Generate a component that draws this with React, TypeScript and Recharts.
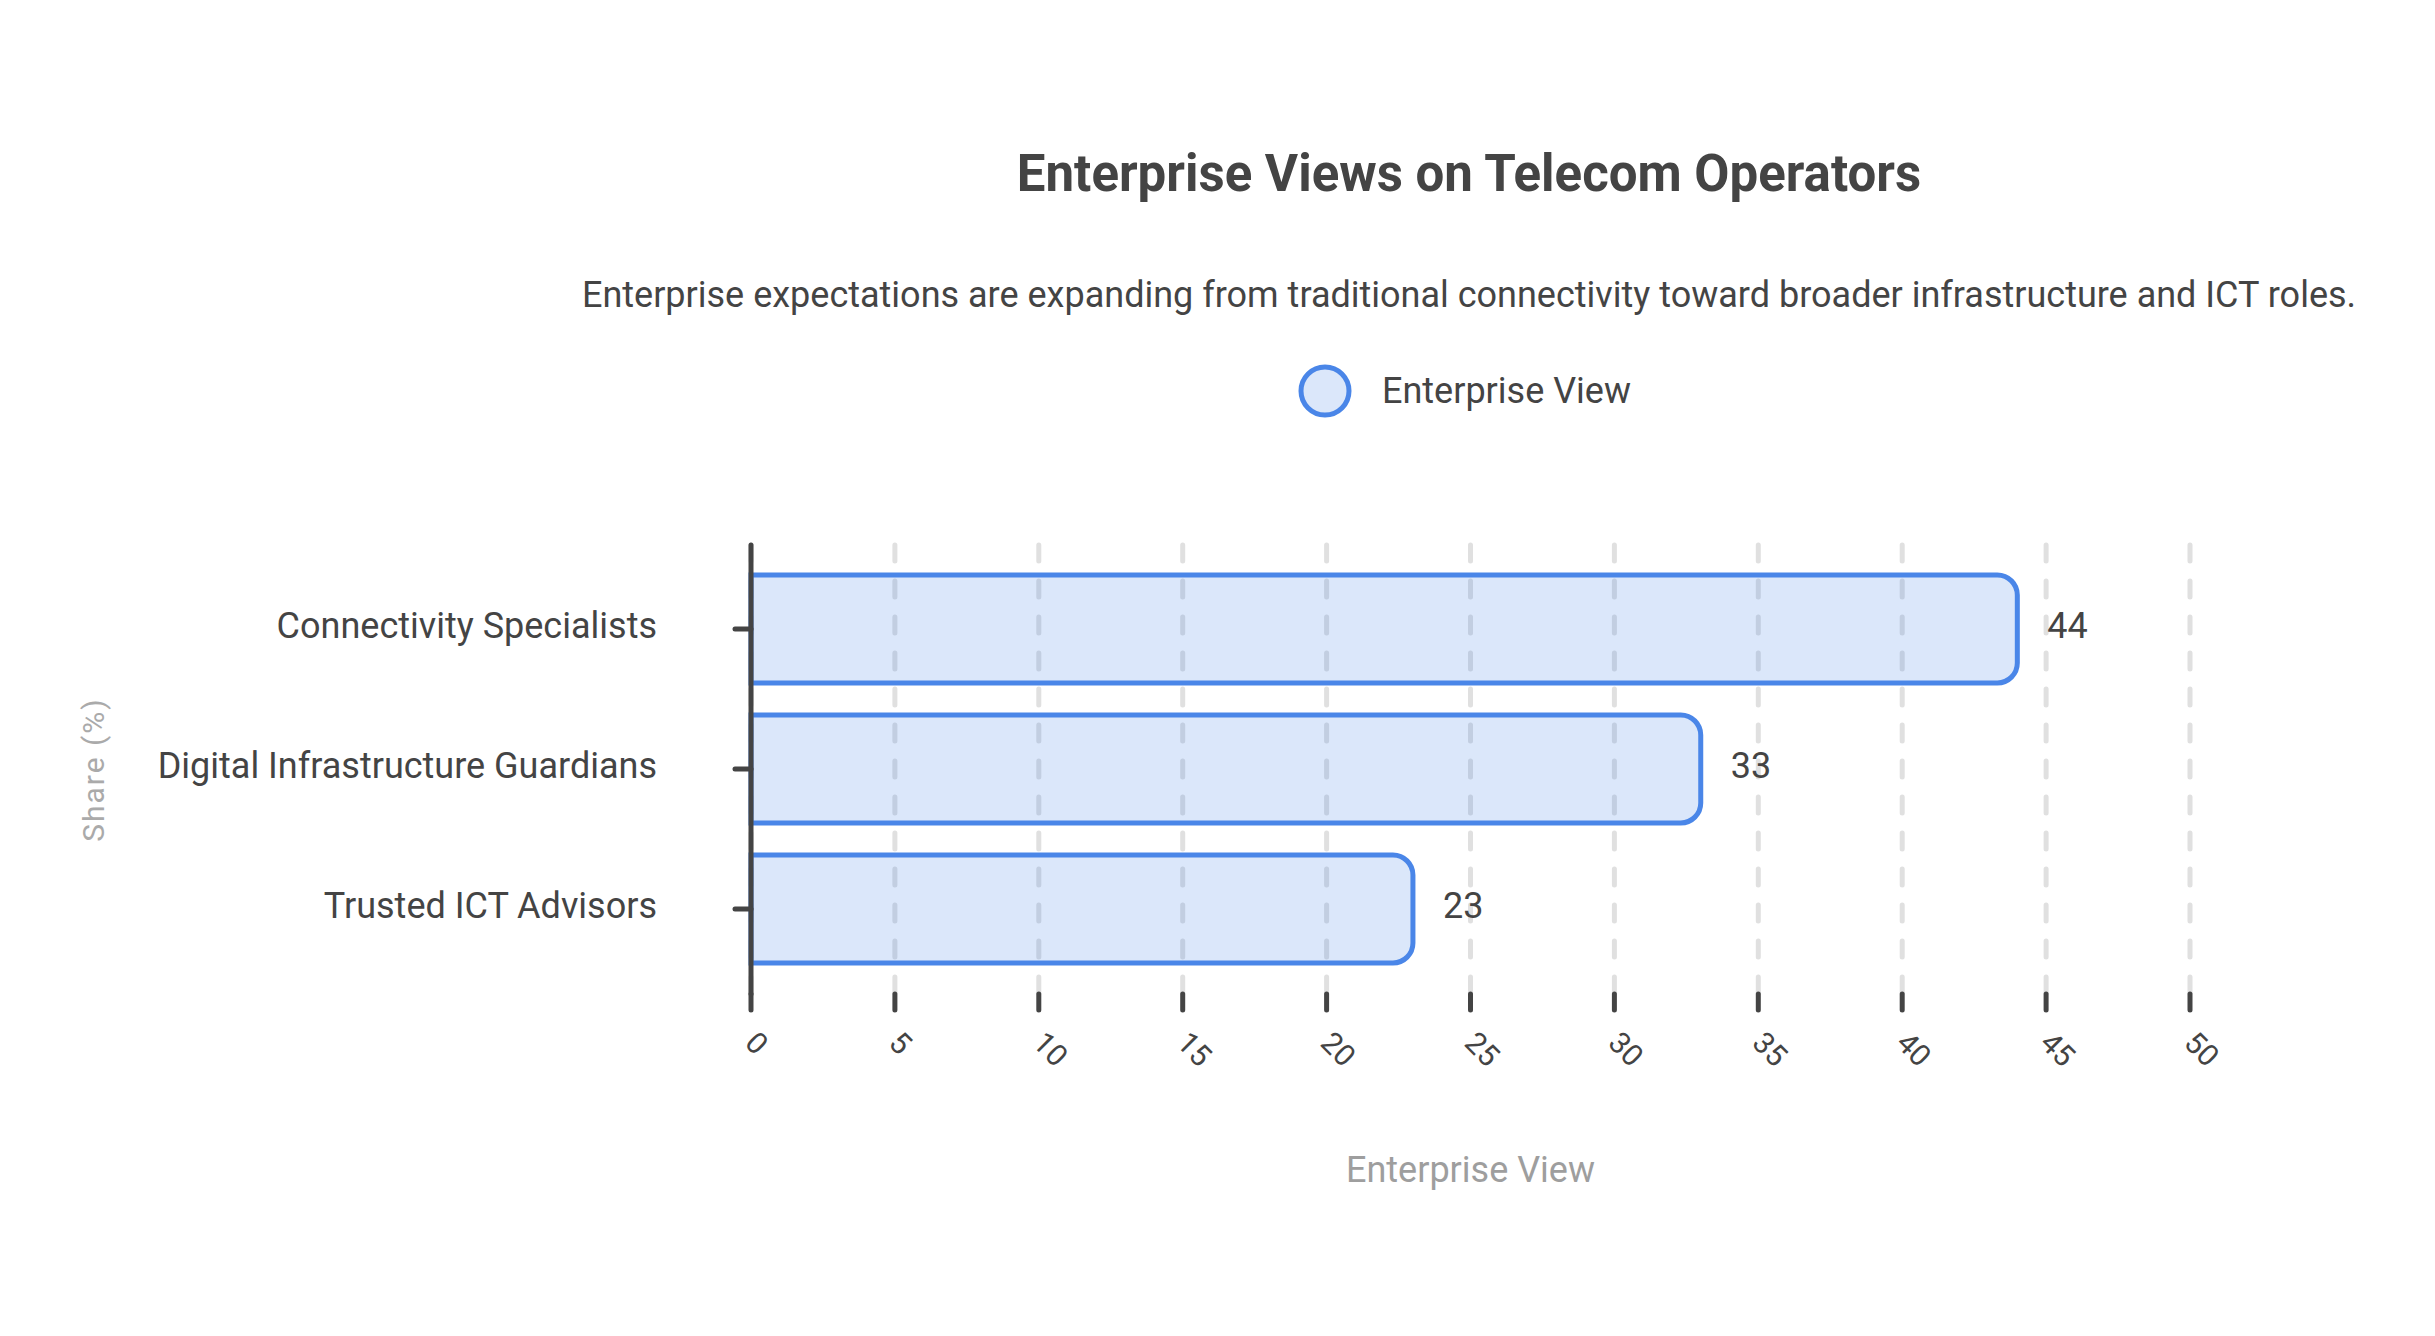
import { BarChart, Bar, XAxis, YAxis, CartesianGrid, Legend, LabelList } from "recharts";

const categories = ["Connectivity Specialists", "Digital Infrastructure Guardians", "Trusted ICT Advisors"];
const enterpriseView = [44, 33, 23];
const xTicks = [0, 5, 10, 15, 20, 25, 30, 35, 40, 45, 50];

const seriesName = "Enterprise View";
const blue = "#4A86E8";
const ink = "#444444";

const data = categories.map((name, i) => ({ name, value: enterpriseView[i] }));

const XTick = (props: any) => {
  const { x, y, payload } = props;
  return (
    <text
      x={x}
      y={y}
      dy="0.355em"
      textAnchor="start"
      transform={`rotate(45 ${x} ${y})`}
      fontSize={30}
      fill={ink}
    >
      {payload.value}
    </text>
  );
};

const YTick = (props: any) => {
  const { x, y, payload } = props;
  return (
    <text x={x} y={y} dy="0.245em" textAnchor="end" fontSize={36} fill={ink}>
      {payload.value}
    </text>
  );
};

const ValueLabel = (props: any) => {
  const { x, y, width, height, value } = props;
  return (
    <text x={x + width + 30} y={y + height / 2} dy="0.245em" textAnchor="start" fontSize={36} fill={ink}>
      {value}
    </text>
  );
};

const renderLegend = (props: any) => {
  const { payload = [] } = props;
  return (
    <div style={{ display: "flex", justifyContent: "center", alignItems: "center" }}>
      {payload.map((entry: any) => (
        <div key={entry.value} style={{ display: "flex", alignItems: "center", gap: 30 }}>
          <svg width={54} height={54}>
            <circle cx={27} cy={27} r={24} fill={blue} fillOpacity={0.2} stroke={blue} strokeWidth={5} />
          </svg>
          <span style={{ fontSize: 36, color: ink }}>{entry.value}</span>
        </div>
      ))}
    </div>
  );
};

export default function App() {
  return (
    <div style={{ position: "absolute", left: 0, top: 0, width: 2435, height: 1336, background: "#fff", fontFamily: "Roboto" }}>
      <svg width={2435} height={1336} style={{ position: "absolute", left: 0, top: 0, pointerEvents: "none" }}>
        <text x={1469} y={191} textAnchor="middle" fontSize={51} fontWeight="bold" fill={ink}>
          Enterprise Views on Telecom Operators
        </text>
        <text x={1469} y={307} textAnchor="middle" fontSize={36} fill={ink}>
          Enterprise expectations are expanding from traditional connectivity toward broader infrastructure and ICT roles.
        </text>
      </svg>
      <BarChart
        width={2435}
        height={1336}
        data={data}
        layout="vertical"
        margin={{ top: 545, right: 245, bottom: 0, left: 0 }}
      >
        <CartesianGrid
          horizontal={false}
          stroke="#e0e0e0"
          strokeWidth={5}
          strokeDasharray="16 20"
          strokeLinecap="round"
        />
        <XAxis
          type="number"
          domain={[0, 50]}
          ticks={xTicks}
          interval={0}
          height={342}
          axisLine={false}
          tickSize={16}
          tickMargin={27}
          tickLine={{ stroke: ink, strokeWidth: 5, strokeLinecap: "round" }}
          tick={<XTick />}
          label={(p: any) => {
            const vb = p.viewBox;
            return (
              <text x={vb.x + vb.width / 2} y={vb.y + 175} dy="0.355em" textAnchor="middle" fontSize={36} fill="#9e9e9e">
                {seriesName}
              </text>
            );
          }}
        />
        <YAxis
          type="category"
          dataKey="name"
          width={751}
          padding={{ top: 14, bottom: 15 }}
          axisLine={{ stroke: ink, strokeWidth: 5, strokeLinecap: "round" }}
          tickLine={{ stroke: ink, strokeWidth: 5, strokeLinecap: "round" }}
          tickSize={16}
          tickMargin={78}
          tick={<YTick />}
          label={(p: any) => {
            const vb = p.viewBox;
            const cx = vb.x + 93;
            const cy = vb.y + vb.height / 2;
            return (
              <text
                x={cx}
                y={cy}
                dy="0.355em"
                textAnchor="middle"
                transform={`rotate(-90 ${cx} ${cy})`}
                fontSize={30}
                letterSpacing={2}
                fill="#aaaaaa"
              >
                Share (%)
              </text>
            );
          }}
        />
        <Legend
          layout="horizontal"
          verticalAlign="middle"
          align="center"
          wrapperStyle={{ top: 364, left: 745, width: 1439 }}
          content={renderLegend}
        />
        <Bar
          dataKey="value"
          name={seriesName}
          fill={blue}
          fillOpacity={0.2}
          stroke={blue}
          strokeWidth={5}
          barSize={108}
          radius={[0, 20, 20, 0]}
          isAnimationActive={false}
        >
          <LabelList dataKey="value" content={<ValueLabel />} />
        </Bar>
      </BarChart>
    </div>
  );
}
